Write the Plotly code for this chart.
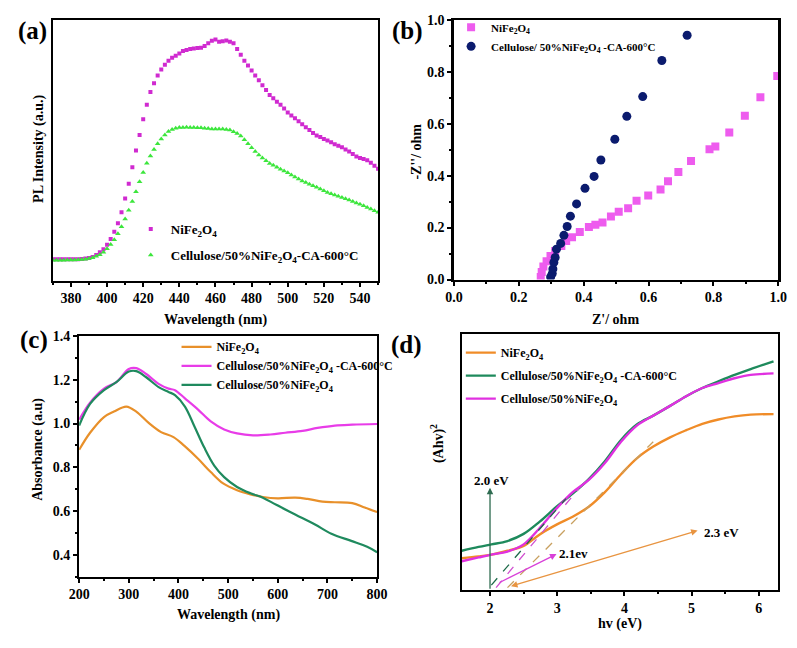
import numpy as np
import plotly.graph_objects as go

FONT = "Liberation Serif"

# (a) PL spectra, intensity in a.u.
pl_wl = np.arange(370, 551, 2)
pl_ni = [21.7, 21.7, 21.7, 21.7, 21.7, 21.7, 21.7, 21.8, 22, 22.5,
         23, 24, 26, 29, 32, 36.5, 42.5, 50, 58.5, 70,
         84, 99, 116, 133, 149, 165, 180, 193, 202, 210,
         216, 221, 225, 228, 230, 232.5, 235, 236, 237, 237.5,
         238, 238.3, 240, 243, 245.5, 246.7, 244.5, 245, 245.8, 244.5,
         243, 237, 231, 225, 220, 215, 210, 205, 200, 195,
         190, 186.5, 183, 180, 176, 172, 169, 166, 163, 160,
         157, 154, 151, 148.5, 147, 145, 143.3, 141.5, 139.5, 138,
         136.5, 134, 132, 129.5, 127, 125.5, 124.5, 123, 120.5, 117.5, 114.5]
pl_ca = [20.7, 20.7, 20.7, 20.8, 20.9, 21, 21.1, 21.3, 21.5, 21.8,
         22.5, 23.3, 24.8, 26.5, 29, 32.5, 37, 41.7, 48, 55,
         63, 72, 81, 91, 101, 110.5, 120, 127.5, 134, 140,
         145, 149, 152.5, 154.5, 156, 156.7, 156.7, 156.8, 156.7, 156.7,
         156.5, 156.3, 156, 155.5, 155.2, 155, 155, 155, 154.5, 154,
         152.3, 150.5, 148, 144, 140, 136, 132, 128.5, 125.5, 122.5,
         119.8, 118, 116, 114, 112, 110.2, 108, 106, 104, 102,
         100.3, 98.5, 97, 95.5, 93.7, 92, 90, 88.7, 87.5, 86.3,
         85, 83.8, 82.5, 81, 79.4, 78, 76.5, 74.7, 73.2, 71.5, 70]

# (b) Nyquist plots
eis_ni_re = [0.2675, 0.2705, 0.2756, 0.2855, 0.2976, 0.312, 0.331, 0.346, 0.364, 0.388,
             0.416, 0.436, 0.458, 0.484, 0.508, 0.537, 0.563, 0.599, 0.637, 0.660,
             0.692, 0.731, 0.788, 0.806, 0.849, 0.897, 0.945, 0.997]
eis_ni_im = [0.010, 0.029, 0.050, 0.070, 0.091, 0.110, 0.129, 0.148, 0.163, 0.183,
             0.202, 0.211, 0.220, 0.243, 0.261, 0.274, 0.303, 0.323, 0.347, 0.378,
             0.414, 0.456, 0.501, 0.512, 0.566, 0.630, 0.702, 0.783]
eis_ca_re = [0.298, 0.303, 0.305, 0.308, 0.312, 0.316, 0.329, 0.339, 0.349, 0.359,
             0.378, 0.404, 0.432, 0.453, 0.496, 0.533, 0.582, 0.641, 0.719]
eis_ca_im = [0.010, 0.023, 0.041, 0.066, 0.085, 0.117, 0.139, 0.170, 0.204, 0.244,
             0.291, 0.351, 0.397, 0.460, 0.540, 0.628, 0.704, 0.843, 0.940]

# (c) UV-vis absorbance
uv_ni_wl = [200, 222, 250, 270, 295, 315, 340, 365, 390, 412, 440, 465,
            490, 518, 545, 570, 600, 635, 660, 690, 715, 750, 775, 800]
uv_ni = [0.880, 0.958, 1.030, 1.055, 1.078, 1.055, 1.003, 0.961, 0.938, 0.898, 0.838, 0.778,
         0.726, 0.695, 0.676, 0.664, 0.658, 0.661, 0.655, 0.643, 0.640, 0.636, 0.616, 0.595]
uv_ca_wl = [200, 222, 250, 275, 300, 315, 335, 360, 380, 393, 413, 440,
            465, 492, 518, 550, 585, 615, 650, 680, 715, 750, 800]
uv_ca = [1.018, 1.096, 1.160, 1.190, 1.250, 1.254, 1.227, 1.182, 1.160, 1.153, 1.115, 1.063,
         1.010, 0.973, 0.955, 0.946, 0.950, 0.958, 0.967, 0.980, 0.991, 0.995, 0.998]
uv_cn_wl = [200, 222, 250, 275, 300, 315, 335, 360, 380, 393, 413, 432, 452,
            472, 492, 518, 545, 570, 597, 636, 675, 708, 748, 780, 800]
uv_cn = [0.991, 1.090, 1.153, 1.190, 1.238, 1.240, 1.212, 1.167, 1.145, 1.130, 1.078, 0.988, 0.890,
         0.808, 0.755, 0.710, 0.681, 0.661, 0.628, 0.583, 0.538, 0.496, 0.463, 0.436, 0.411]

# (d) Tauc plots
tauc_ev = [1.58, 1.83, 2.02, 2.26, 2.5, 2.74, 2.99, 3.23, 3.47, 3.71,
           3.95, 4.19, 4.43, 4.68, 4.92, 5.16, 5.4, 5.64, 5.88, 6.22]
tauc_ni = [0.125, 0.132, 0.139, 0.154, 0.173, 0.218, 0.256, 0.287, 0.326, 0.383,
           0.453, 0.516, 0.561, 0.597, 0.625, 0.650, 0.667, 0.679, 0.686, 0.688]
tauc_ca = [0.154, 0.169, 0.179, 0.192, 0.220, 0.268, 0.326, 0.377, 0.434, 0.504,
           0.587, 0.648, 0.682, 0.720, 0.758, 0.790, 0.816, 0.841, 0.864, 0.894]
tauc_cn = [0.113, 0.128, 0.139, 0.151, 0.179, 0.243, 0.319, 0.383, 0.431, 0.497,
           0.580, 0.644, 0.682, 0.720, 0.758, 0.790, 0.809, 0.828, 0.841, 0.847]
# tangent lines (x0, x1), (y0, y1)
fit_ca = ([2.02, 3.13], [0.02, 0.358])
fit_cn = ([2.09, 3.32], [0.01, 0.396])
fit_ni = ([2.26, 4.43], [0.01, 0.58])
gap_labels = ["2.0 eV", "2.1ev", "2.3 eV"]

NI = "NiFe<sub>2</sub>O<sub>4</sub>"
bold = dict(family=FONT, color="black", weight="bold")

fig = go.Figure()

# (a)
fig.add_trace(go.Scatter(x=pl_wl, y=pl_ni, mode="markers", name=NI, legendgroup="a1",
                         marker=dict(symbol="square", size=4, color="#D02AD0"),
                         xaxis="x", yaxis="y", legend="legend"))
fig.add_trace(go.Scatter(x=pl_wl, y=pl_ca, mode="markers",
                         name="Cellulose/50%NiFe<sub>2</sub>O<sub>4</sub>-CA-600°C", legendgroup="a2",
                         marker=dict(symbol="triangle-up", size=5, color="#3CE63C"),
                         xaxis="x", yaxis="y", legend="legend"))

# (b)
fig.add_trace(go.Scatter(x=eis_ni_re, y=eis_ni_im, mode="markers", name=NI,
                         marker=dict(symbol="square", size=8, color="#EE5CEE"),
                         xaxis="x2", yaxis="y2", legend="legend2"))
fig.add_trace(go.Scatter(x=eis_ca_re, y=eis_ca_im, mode="markers",
                         name="Cellulose/ 50%NiFe<sub>2</sub>O<sub>4</sub> -CA-600°C",
                         marker=dict(symbol="circle", size=9, color="#0B1B6E"),
                         xaxis="x2", yaxis="y2", legend="legend2"))

# (c)
for xs, ys, nm, col in [
    (uv_ni_wl, uv_ni, NI, "#E8902A"),
    (uv_ca_wl, uv_ca, "Cellulose/50%NiFe<sub>2</sub>O<sub>4</sub> -CA-600°C", "#E83CE8"),
    (uv_cn_wl, uv_cn, "Cellulose/50%NiFe<sub>2</sub>O<sub>4</sub>", "#1F8A5E"),
]:
    fig.add_trace(go.Scatter(x=xs, y=ys, mode="lines", name=nm,
                             line=dict(color=col, width=2.2, shape="spline"),
                             xaxis="x3", yaxis="y3", legend="legend3"))

# (d)
for i, (ys, nm, col) in enumerate([
    (tauc_ni, NI, "#F08C28"),
    (tauc_ca, "Cellulose/50%NiFe<sub>2</sub>O<sub>4</sub> -CA-600°C", "#1E8A5C"),
    (tauc_cn, "Cellulose/50%NiFe<sub>2</sub>O<sub>4</sub>", "#E030E0"),
]):
    fig.add_trace(go.Scatter(x=tauc_ev, y=ys, mode="lines", name=nm, legendgroup="d%d" % i,
                             line=dict(color=col, width=2.4, shape="spline"),
                             xaxis="x4", yaxis="y4", legend="legend4"))
for (fx, fy), col in [(fit_ca, "#1E6B4A"), (fit_cn, "#D050D0"), (fit_ni, "#C8A060")]:
    fig.add_trace(go.Scatter(x=fx, y=fy, mode="lines", showlegend=False,
                             line=dict(color=col, width=1.3, dash="dash"),
                             xaxis="x4", yaxis="y4"))

# arrows in (d)
arrows = [
    (2.0, 0.0, 2.0, 0.40, "#2E6B50", "end"),
    (2.12, 0.027, 2.99, 0.141, "#D840D8", "end"),
    (2.29, 0.014, 5.09, 0.233, "#E89440", "end+start"),
]
for x0, y0, x1, y1, col, side in arrows:
    fig.add_annotation(x=x1, y=y1, ax=x0, ay=y0, xref="x4", yref="y4", axref="x4", ayref="y4",
                       showarrow=True, arrowhead=2, arrowsize=1, arrowwidth=1.3,
                       arrowcolor=col, arrowside=side, text="")
for txt, x, y, anc in [(gap_labels[0], 2.02, 0.43, "center"),
                       (gap_labels[1], 2.99, 0.145, "left"),
                       (gap_labels[2], 5.16, 0.225, "left")]:
    fig.add_annotation(x=x, y=y, xref="x4", yref="y4", text=txt, showarrow=False,
                       xanchor=anc, yanchor="middle", font=dict(size=13, **bold))


def axis(**kw):
    base = dict(showline=True, linewidth=2, linecolor="black", mirror=True,
                ticks="outside", ticklen=4, tickwidth=1.5, tickcolor="black",
                showgrid=False, zeroline=False,
                tickfont=dict(size=14, **bold))
    base.update(kw)
    return base


W, H = 797, 648
fig.update_layout(
    width=W, height=H, margin=dict(l=0, r=0, t=0, b=0),
    paper_bgcolor="white", plot_bgcolor="white",
    font=dict(family=FONT, color="black"),
    xaxis=axis(domain=[43 / W, 377 / W], range=[370, 550], dtick=20,
               minor=dict(ticks="outside", ticklen=2, dtick=10)),
    yaxis=axis(domain=[1 - 280 / H, 1 - 13 / H], range=[0, 267],
               showticklabels=False, ticks=""),
    xaxis2=axis(domain=[455 / W, 788 / W], range=[0, 1.0], dtick=0.2, tickformat=".1f",
                minor=dict(ticks="outside", ticklen=2, dtick=0.1), anchor="y2"),
    yaxis2=axis(domain=[1 - 279 / H, 1 - 13 / H], range=[0, 1.0], dtick=0.2, tickformat=".1f",
                minor=dict(ticks="outside", ticklen=2, dtick=0.1), anchor="x2", linewidth=2.5),
    xaxis3=axis(domain=[70 / W, 376 / W], range=[200, 800], dtick=100,
                minor=dict(ticks="outside", ticklen=2, dtick=50), anchor="y3"),
    yaxis3=axis(domain=[1 - 583 / H, 1 - 337 / H], range=[0.3, 1.4], tick0=0.4, dtick=0.2,
                tickformat=".1f", minor=dict(ticks="outside", ticklen=2, dtick=0.1), anchor="x3"),
    xaxis4=axis(domain=[463 / W, 788 / W], range=[1.58, 6.29], dtick=1,
                minor=dict(ticks="outside", ticklen=2, dtick=0.5), anchor="y4"),
    yaxis4=axis(domain=[1 - 597 / H, 1 - 335 / H], range=[0, 1], showticklabels=False,
                ticks="", anchor="x4"),
    legend=dict(x=123 / W, y=1 - 212 / H, xanchor="left", yanchor="top",
                bgcolor="rgba(0,0,0,0)", tracegroupgap=6, itemwidth=30,
                font=dict(size=13, **bold)),
    legend2=dict(x=452 / W, y=1 - 6 / H, xanchor="left", yanchor="top",
                 bgcolor="rgba(0,0,0,0)", itemwidth=30, font=dict(size=11, **bold)),
    legend3=dict(x=170 / W, y=1 - 333 / H, xanchor="left", yanchor="top",
                 bgcolor="rgba(0,0,0,0)", itemwidth=30, font=dict(size=12, **bold)),
    legend4=dict(x=462 / W, y=1 - 339 / H, xanchor="left", yanchor="top",
                 bgcolor="rgba(0,0,0,0)", tracegroupgap=4, itemwidth=30,
                 font=dict(size=12, **bold)),
    showlegend=True,
)

# axis titles and panel labels
titles = [
    ("Wavelength (nm)", 210, 320, 0),
    ("PL Intensity (a.u.)", 28, 145, -90),
    ("Z'/ ohm", 621, 320, 0),
    ("-Z''/ ohm", 417, 148, -90),
    ("Wavelength (nm)", 223, 622, 0),
    ("Absorbance (a.u)", 27, 453, -90),
    ("hv (eV)", 625, 632, 0),
    ("(Ahv)<sup>2</sup>", 438, 447, -90),
]
for txt, px, py, ang in titles:
    fig.add_annotation(x=px / W, y=1 - py / H, xref="paper", yref="paper", text=txt,
                       xanchor="center", yanchor="middle",
                       showarrow=False, textangle=ang, font=dict(size=14, **bold))
for txt, px, py in [("(a)", 22, 25), ("(b)", 407, 25), ("(c)", 24, 341), ("(d)", 406, 346)]:
    fig.add_annotation(x=px / W, y=1 - py / H, xref="paper", yref="paper", text=txt,
                       xanchor="center", yanchor="middle",
                       showarrow=False, font=dict(size=25, **bold))

fig.write_html("out.html", config={"displayModeBar": False},
               post_script="document.body.style.margin='0px';")
